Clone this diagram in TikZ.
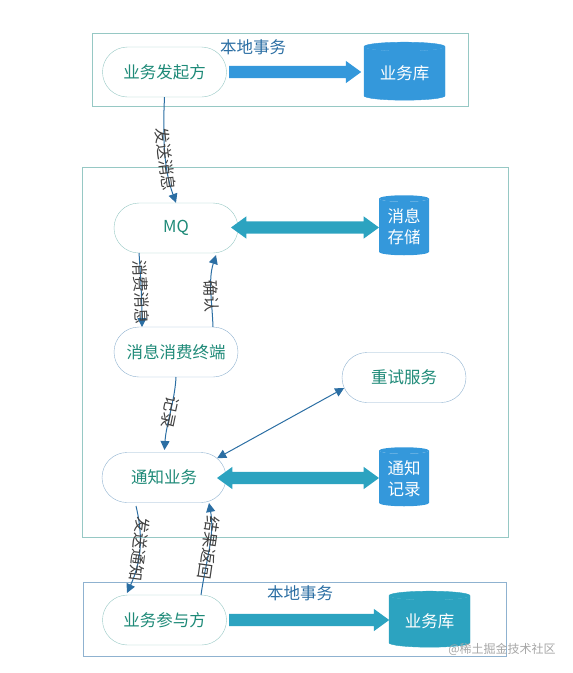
\documentclass[tikz,border=0pt]{standalone}
\usepackage{fontspec}
\setmainfont{Noto Sans CJK SC}
\usetikzlibrary{arrows.meta,shapes.geometric,shapes.arrows,shapes.misc}
\definecolor{framegreen}{HTML}{96C8C4}
\definecolor{frameblue}{HTML}{8FB2D0}
\definecolor{nodetext}{HTML}{1E8A78}
\definecolor{dbblue}{HTML}{3498DB}
\definecolor{dbteal}{HTML}{2CA3C0}
\definecolor{linkblue}{HTML}{2B6EA3}
\tikzset{
    txframe/.style={draw=#1, line width=0.7pt, fill=none, inner sep=0pt},
    pill/.style={draw=#1, fill=white, rounded rectangle, rounded rectangle arc length=180,
                 minimum width=124pt, minimum height=50pt,
                 inner sep=0pt, text=nodetext, font=\fontsize{16.5}{16.5}\selectfont},
    db/.style={cylinder, shape border rotate=90, shape aspect=#1, draw=none, cylinder uses custom fill,
               inner sep=0pt, text=white, align=center, font=\fontsize{16.5}{21}\selectfont},
    bigarrow/.style={draw=none, fill=#1, single arrow, single arrow head extend=5pt,
                     single arrow tip angle=72, inner sep=0pt, minimum width=22pt, anchor=tail},
    bigboth/.style={draw=none, fill=#1, double arrow, double arrow head extend=5pt,
                    double arrow tip angle=72, inner sep=0pt, minimum width=22pt},
    link/.style={draw=linkblue, line width=1pt, -{Triangle[length=9pt,width=9pt]}},
    linklabel/.style={sloped, allow upside down, inner sep=0pt, text=black!75, font=\fontsize{16}{16}\selectfont},
    txlabel/.style={text=linkblue, inner sep=0pt, font=\fontsize{16.5}{16.5}\selectfont},
}
\newcommand{\shaft}{\rule{0pt}{12pt}}
\begin{document}
\begin{tikzpicture}[x=1pt, y=-1pt]
    \useasboundingbox (0,0) rectangle (573,673);

    % Frames
    \node[txframe=framegreen, minimum width=376pt, minimum height=73pt] (frametop) at (280,69.5) {};
    \node[txframe=framegreen, minimum width=426pt, minimum height=370pt] (framemid) at (295,352) {};
    \node[txframe=frameblue, minimum width=423pt, minimum height=74pt] (framebot) at (294.5,619) {};
    \node[txlabel] (toplabel) at (253,47) {本地事务};
    \node[txlabel] (botlabel) at (300,593) {本地事务};

    % Service nodes
    \node[pill=framegreen] (starter) at (164.5,72) {业务发起方};
    \node[pill=framegreen] (mq) at (176,228) {\raisebox{-2pt}{MQ}};
    \node[pill=frameblue] (consumer) at (176,352) {消息消费终端};
    \node[pill=frameblue] (retry) at (404,377.5) {重试服务};
    \node[pill=frameblue] (notify) at (164,477.5) {通知业务};
    \node[pill=framegreen] (joiner) at (164.5,620) {业务参与方};

    % Stores
    \node[db=0.18, draw=dbblue, line width=0.4pt, cylinder body fill=dbblue, cylinder end fill=dbblue, minimum width=81pt, minimum height=58pt] (topdb) at (404.5,73.5) {业务库};
    \node[db=0.2, cylinder body fill=dbblue, cylinder end fill=dbblue, minimum width=50pt, minimum height=60pt] (msgdb) at (404,227) {消息\\存储};
    \node[db=0.2, cylinder body fill=dbblue, cylinder end fill=dbblue, minimum width=50pt, minimum height=59pt] (notedb) at (404,478.5) {通知\\记录};
    \node[db=0.18, draw=dbteal, line width=0.4pt, cylinder body fill=dbteal, cylinder end fill=dbteal, minimum width=81pt, minimum height=56pt] (botdb) at (429.5,621.5) {业务库};

    % Thick arrows
    \node[bigarrow=dbblue, minimum height=132pt] (toparrow) at (229,72) {\shaft};
    \node[bigboth=dbteal, minimum height=148pt] (mqarrow) at (305,227.5) {\shaft};
    \node[bigboth=dbteal, minimum height=162pt] (notearrow) at (298,478) {\shaft};
    \node[bigarrow=dbteal, minimum height=160pt] (botarrow) at (229,620) {\shaft};

    % Links
    \draw[link] (starter.south) .. controls (162,150) and (166,175) .. (mq.north)
        node[linklabel, pos=0.5] (sendmsg) {发送消息};
    \draw[link] (139,253) .. controls (141,280) and (142,305) .. (142,327)
        node[linklabel, pos=0.5] (consume) {消费消息};
    \draw[link] (213,327) .. controls (212,300) and (208,280) .. (216,255)
        node[linklabel, pos=0.45, rotate=180, xshift=3pt] (confirm) {确认};
    \draw[link] (176,377) .. controls (175,400) and (166,425) .. (164.5,450)
        node[linklabel, pos=0.5] (record) {记录};
    \draw[link, {Triangle[length=9pt,width=9pt]}-{Triangle[length=9pt,width=9pt]}] (notify.20) -- (retry.190);
    \draw[link] (136,506) .. controls (143,535) and (142,560) .. (127,593)
        node[linklabel, pos=0.55, xshift=-3pt] (sendnote) {发送通知};
    \draw[link] (201,595) .. controls (206,560) and (215,535) .. (209,503)
        node[linklabel, pos=0.5, rotate=180] (result) {结果返回};

    % Watermark
    \node[text=gray!70, inner sep=0pt, font=\fontsize{12}{12}\selectfont] (mark) at (502,649) {@稀土掘金技术社区};
\end{tikzpicture}
\end{document}
